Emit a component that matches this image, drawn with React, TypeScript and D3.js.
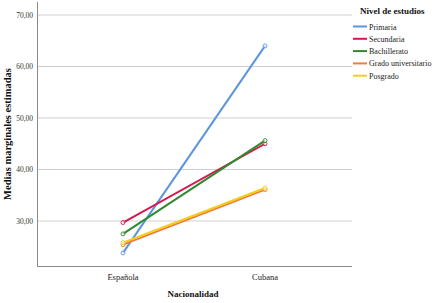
import { useEffect, useRef } from "react";
import * as d3 from "d3";

const nationalities = ["Española", "Cubana"];
const levels = ["Primaria", "Secundaria", "Bachillerato", "Grado universitario", "Posgrado"];
const colors = ["#5b95dc", "#d5184e", "#2f8a2f", "#f27c3a", "#f0d01e"];
const espanola = [23.8, 29.7, 27.5, 25.4, 25.8];
const cubana = [64.0, 45.0, 45.6, 36.1, 36.4];
const yTicks = [30, 40, 50, 60, 70];

export default function App() {
  const svgRef = useRef<SVGSVGElement>(null);

  useEffect(() => {
    if (!svgRef.current) return;
    const width = 440;
    const height = 303;
    const left = 37;
    const right = 352;
    const top = 2;
    const bottom = 266;

    d3.select(svgRef.current).selectAll("*").remove();
    const svg = d3.select(svgRef.current).attr("width", width).attr("height", height);
    svg.append("rect").attr("width", width).attr("height", height).attr("fill", "#fff");

    const y = d3.scaleLinear().domain([30, 70]).range([221, 15]);
    const x = d3.scalePoint<string>().domain(nationalities).range([123, 265]);

    const font = "'Liberation Serif', 'Times New Roman', serif";

    // gridlines
    svg
      .append("g")
      .selectAll("line")
      .data(yTicks)
      .join("line")
      .attr("x1", left)
      .attr("x2", right)
      .attr("y1", (d) => y(d))
      .attr("y2", (d) => y(d))
      .attr("stroke", "#cfcfcf")
      .attr("stroke-width", 1);

    svg
      .append("g")
      .selectAll("text")
      .data(yTicks)
      .join("text")
      .attr("x", left - 4)
      .attr("y", (d) => y(d) + 2.5)
      .attr("text-anchor", "end")
      .attr("font-family", font)
      .attr("font-size", 7.5)
      .attr("fill", "#333")
      .text((d) => d3.format(".2f")(d).replace(".", ","));

    // axes lines
    svg.append("line").attr("x1", left + 0.5).attr("x2", left + 0.5).attr("y1", top).attr("y2", bottom)
      .attr("stroke", "#8a8a8a");
    svg.append("line").attr("x1", left).attr("x2", right).attr("y1", bottom + 0.5).attr("y2", bottom + 0.5)
      .attr("stroke", "#8a8a8a");

    svg
      .append("g")
      .selectAll("text")
      .data(nationalities)
      .join("text")
      .attr("x", (d) => x(d)!)
      .attr("y", 280)
      .attr("text-anchor", "middle")
      .attr("font-family", font)
      .attr("font-size", 8.5)
      .attr("fill", "#222")
      .text((d) => d);

    svg.append("text")
      .attr("x", 193)
      .attr("y", 297)
      .attr("text-anchor", "middle")
      .attr("font-family", font)
      .attr("font-size", 9)
      .attr("font-weight", "bold")
      .attr("fill", "#111")
      .text("Nacionalidad");

    svg.append("text")
      .attr("transform", `translate(11,${134}) rotate(-90)`)
      .attr("text-anchor", "middle")
      .attr("font-family", font)
      .attr("font-size", 10.5)
      .attr("font-weight", "bold")
      .attr("fill", "#111")
      .text("Medias marginales estimadas");

    // series
    const series = levels.map((name, i) => ({
      name,
      color: colors[i],
      values: [espanola[i], cubana[i]],
    }));
    const line = d3
      .line<number>()
      .x((_, j) => x(nationalities[j])!)
      .y((d) => y(d));

    series.forEach((s) => {
      const g = svg.append("g");
      g.append("path")
        .datum(s.values)
        .attr("fill", "none")
        .attr("stroke", s.color)
        .attr("stroke-width", 2)
        .attr("d", line);
      g.selectAll("circle")
        .data(s.values)
        .join("circle")
        .attr("cx", (_, j) => x(nationalities[j])!)
        .attr("cy", (d) => y(d))
        .attr("r", 2)
        .attr("fill", "#fff")
        .attr("fill-opacity", 0.6)
        .attr("stroke", s.color)
        .attr("stroke-width", 0.9);
    });

    // legend
    svg.append("text")
      .attr("x", 360)
      .attr("y", 14)
      .attr("font-family", font)
      .attr("font-size", 9)
      .attr("font-weight", "bold")
      .attr("fill", "#111")
      .text("Nivel de estudios");

    const leg = svg
      .append("g")
      .selectAll("g")
      .data(series)
      .join("g")
      .attr("transform", (_, i) => `translate(353,${26.5 + i * 12.3})`);
    leg.append("line")
      .attr("x1", 0)
      .attr("x2", 14)
      .attr("stroke", (d) => d.color)
      .attr("stroke-width", 2);
    leg.append("text")
      .attr("x", 16)
      .attr("y", 3)
      .attr("font-family", font)
      .attr("font-size", 8)
      .attr("fill", "#222")
      .text((d) => d.name);
  }, []);

  return (
    <svg
      ref={svgRef}
      style={{ position: "absolute", left: 0, top: 0, display: "block" }}
    />
  );
}
